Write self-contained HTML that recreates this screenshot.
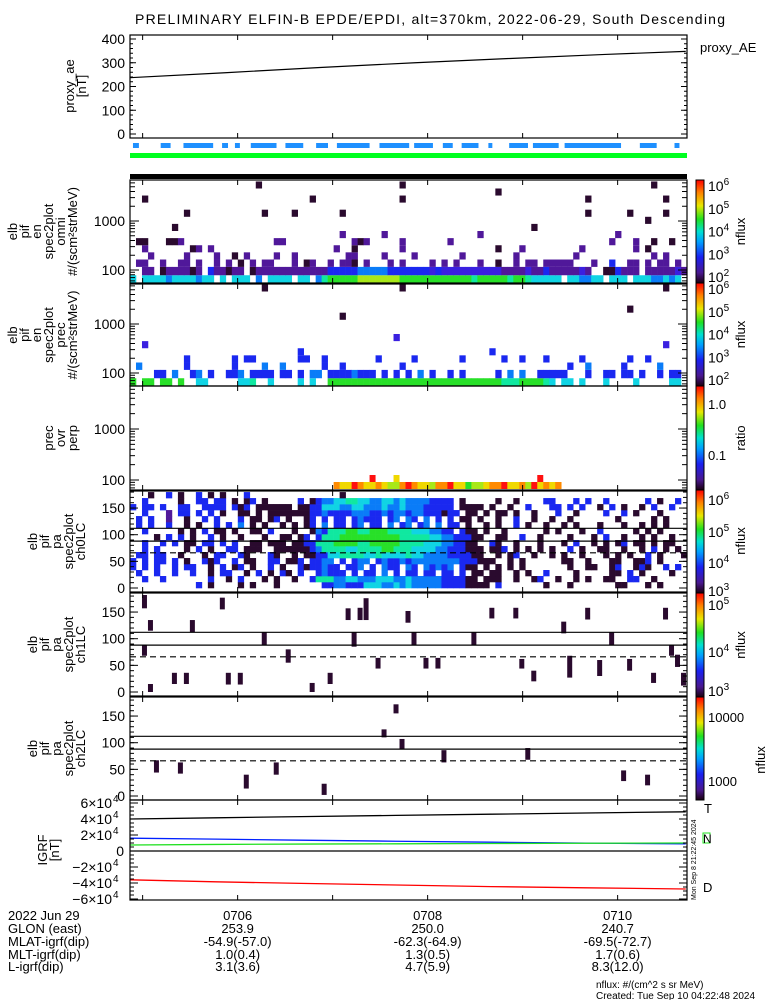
<!DOCTYPE html>
<html><head><meta charset="utf-8">
<style>
html,body{margin:0;padding:0;background:#fff;}
svg{display:block;font-family:"Liberation Sans",sans-serif;}
text{fill:#000;}
</style></head>
<body>
<svg id="chart" width="775" height="1000" viewBox="0 0 775 1000" xmlns="http://www.w3.org/2000/svg">
<rect x="0" y="0" width="775" height="1000" fill="#fff"/>
<text x="135" y="24" font-size="14" textLength="590" lengthAdjust="spacing">PRELIMINARY ELFIN-B EPDE/EPDI, alt=370km, 2022-06-29, South Descending</text>
<g id="g"></g>
</svg>
<script>
// ---------- data ----------
const nBins = 93;
const aeTimes = [0, 1, 2, 3, 4, 5, 5.85];
const aeValues = [237, 258, 280, 300, 318, 335, 348];
const aeTicks = [0, 100, 200, 300, 400];
const blueSegs = [[133,139],[161,171],[184,214],[223,229],[236,241],[252,278],[287,305],[318,330],[339,372],[382,412],[417,436],[446,456],[465,482],[492,496],[513,532],[537,563],[569,626],[645,662],[680,685]];
const energies = [63,97,138,194,271,378,529,739,1031,1440,2012,2802,3905,5432];
const omniRows = [
"f.ffffeffffeff.f.fff.e.ffff.ff.eghhhhhiiiiiiihhhhhhhhhhhhghhhhhghhgfffff.ffeeff.fff.fffeefef.f",
"..bb.abbbbab.dbbabb.abbbbbbbbbbbbdddddeeeeedddddddcdccccccccccbbbbcbbdbbbbbcb..aadbbb.bbbbbcbb",
".bb..b..bb.b..b.b.a.b.bb...b.ab..b.bba.b...b.b....b.b.b...b..a..b.bb.bbbbb...b..d..bb.b.bb.b",
"...b.....b....b..a.b.......b........bb....b....b.......b........b.........b............b.b...",
"..b.......ab.b....................b..a.......b...............a...b.........b........b.a.....",
".aa...aab...............bb...........bab.....b.......b..........................b...b..a..."
];
const omniDots = [[2,11,'a'],[7,7,'a'],[9,9,'a'],[21,13,'a'],[22,9,'a'],[24,3,'b'],[27,9,'a'],[30,11,'a'],[35,9,'a'],[35,6,'b'],[42,6,'b'],[45,13,'a'],[45,11,'a'],[58,6,'b'],[61,12,'a'],[67,7,'a'],[76,9,'a'],[76,11,'a'],[81,6,'b'],[83,9,'a'],[86,8,'a'],[87,13,'a'],[89,11,'a'],[89,9,'a'],[90,5,'a']];
const precRows = [
"h.hh.hh.h..ff.....ffg..f....f.f..hhhhhhhhhhhhhhhhhhhhhhhhhhhhhggghhhhgf.ff.f...f....f.....ff.gf",
"....dd.e..de.d..dde.dddd.dd.d.ee.ddddeddd.d.d.d.e.d..d.d.....d.e.e..ddddd...d..dd.dd.d..d.dd.d",
".e.......d.......d....e..e......d..d.........d...........................d..e.....d.....e..",
".........d.......d.dd.......dd..d........d.....d.......d......d..d...d.....d.......d..d....."
];
const precDots = [[22,13,'a'],[45,13,'a'],[89,13,'a'],[83,10,'a'],[35,9,'a'],[44,6,'c'],[2,5,'c'],[89,5,'c'],[28,4,'d'],[60,4,'d']];
const ratioRow = "..................................kjjlkjjkjiiklkjjikkljjhiijkkljjkiljkjk";
const ratioDots = [[40,'l'],[44,'j'],[68,'l']];
const ch0Rows = [
"...........d.a....a.a...a.......ddeedddfffeefefeeeeeddddaaaa.d.......a...a.......aa...a.a.....",
"..d..d.......d..a.d...a.a..a..dgggeeffeeefffeefeeeeeddddaa.aaa..a..ad..a..a.a..aa..dd..a.....a",
".d..d..d..d..a.dd..a.d.a.da.d..deddd.d.dd.e.d.dd.dd.dd.d.aa.aa..a.a..d....a.....aa.d.a....a..",
"d.d.d..d.dd..a.d.ad.a..d.a..daddedd.dde.d.edd.ed.edede.daa.a.a.a.a.......a..aa..ad..ada..d.d.",
"d.d.dd.d.a..dad..d.aa..dd.aad.ddee.d.dee.deddedeeeeeeeedddaaa..a.a......aa..a...aa..aad.a....",
".dd.dd..a...a.dd..da...da..a.aaddffggggffgffffgffeeeeddddaa..a.ad..a..a.a..a...a.a.a..d.a...a",
"..d.d....a.d.a..dd.aaa..aaaaaadeggggffgggghhgggffffeedddaaa.aad.a.a.a.a..d.a..aa..a..a.d.a.a",
"..d..d.d.aa.dd.d.d..aa.aaa.aaddggghhhhgghhhhhggggfffeeddaa..da..a...a...a.d..a.a.ad.aa.a.aa",
"....a.d.d.a..d.a..a...a..aa.ad.dggghhhhhhhhhhgggggffeedddaa..aa..d..a....a...a.d..a..a.a..a",
"..d.....a.a.d.aa.a..aa.d...a..aedggghhgghhhggggfffeedd.daa.a..a......a.a...a..d.....a.a.a.",
".d.d..d..a.a..d.d.e.a.a..a.a.ad.e.dd.de.dd.e.de.de.e.dd.a..a.a..d.a..a..a.a...a...a..a.a.a.",
".d.d..b..a..d.d...d.aa.ad.a..ad.d.dd.deddd.de.ed.e.d.d.aa.a..a..d..a..a..a.......a.....a.a",
"..d...b.dd.d.d.a..aa.a.aaaaaaaddeddddeeeddedeedeedddadd.aa.a.aa.a..a...d..a....d..d.a...a..",
"d.dd.d..dd..dddd.dad.aaaaaa.aaddfffeeffeeefeefeeeddddd.aaaa.a..a..d...dd.d.d..a.d.a..a.d..d",
"..d.....a..dd.dd.a.ad.a.....d.adeeffggffeeffefeeeedddd.a.....a..a....dd...d.d..d......d.a..d",
"...a..d.a..d.a.a...d...............a....................................................."
];
const ch1Bars = [[2,157,182],[3,115,135],[2,68,89],[3,0,15],[7,15,36],[9,15,36],[10,112,135],[15,155,177],[16,14,36],[18,14,36],[22,88,112],[26,55,80],[30,0,17],[33,15,36],[36,135,157],[37,85,112],[38,135,158],[39,135,176],[41,44,64],[46,130,152],[47,88,112],[49,44,64],[51,44,64],[57,88,112],[60,138,158],[64,138,158],[65,44,62],[67,20,40],[72,110,132],[73,27,68],[76,136,158],[78,30,60],[80,88,112],[83,40,62],[87,17,36],[89,136,158],[90,68,88],[91,47,70],[92,12,36]];
const ch2Bars = [[4,44,67],[8,42,63],[19,14,40],[24,40,63],[32,2,23],[42,110,125],[44,155,172],[45,88,107],[52,63,86],[66,68,90],[82,28,48],[86,20,40]];
const lcLines = [112, 88];
const lcDashed = 66;
const igrfTimes = [0, 0.9, 1.8, 2.8, 3.8, 4.8, 5.85];
const igrfT = [40000, 41500, 43000, 44500, 46000, 47500, 49000];
const igrfN = [16000, 14800, 13500, 12200, 11000, 9800, 9000];
const igrfE = [7500, 8200, 8700, 9000, 9400, 9700, 10000];
const igrfD = [-36000, -38500, -40500, -42500, -44500, -46000, -47500];
const igrfTicks = [60000, 40000, 20000, 0, -20000, -40000, -60000];
const timeLabels = ["0706", "0708", "0710"];
const timeMinutes = [1.133, 3.133, 5.133];
const rowLabels = ["2022 Jun 29", "GLON (east)", "MLAT-igrf(dip)", "MLT-igrf(dip)", "L-igrf(dip)"];
const glon = ["253.9", "250.0", "240.7"];
const mlat = ["-54.9(-57.0)", "-62.3(-64.9)", "-69.5(-72.7)"];
const mlt = ["1.0(0.4)", "1.3(0.5)", "1.7(0.6)"];
const lval = ["3.1(3.6)", "4.7(5.9)", "8.3(12.0)"];

// ---------- rendering ----------
const NS = "http://www.w3.org/2000/svg";
const G = document.getElementById("g");
const X0 = 130, X1 = 687;
const colors = {a:"#2a0a2e",b:"#50189a",c:"#3a20e0",d:"#1a28f0",e:"#0a7cf8",f:"#10d4e4",g:"#10e8a0",h:"#28e028",i:"#a8e818",j:"#f0d800",k:"#ff8a00",l:"#ff1010"};
function el(tag, attrs, parent) {
  const e = document.createElementNS(NS, tag);
  for (const k in attrs) e.setAttribute(k, attrs[k]);
  (parent || G).appendChild(e);
  return e;
}
function xMin(m) { return X0 + m * 95; }
function xBin(i) { return X0 + i * (X1 - X0) / nBins; }
const bw = (X1 - X0) / nBins;
function txt(x, y, s, size, anchor, name, extra) {
  const t = el("text", Object.assign({x: x, y: y, "font-size": size || 13, "text-anchor": anchor || "start"}, extra || {}));
  t.textContent = s;
  
  
  return t;
}
function frame(top, bot, name) {
  const r = el("rect", {x: X0, y: top, width: X1 - X0, height: bot - top, fill: "none", stroke: "#000", "stroke-width": 1.2});
  
  
  for (let m = 0; m <= 5; m++) {
    const x = xMin(m + 0.133);
    el("line", {x1: x, x2: x, y1: bot, y2: bot - 5, stroke: "#000"});
    el("line", {x1: x, x2: x, y1: top, y2: top + 5, stroke: "#000"});
  }
}
function yLabel(lines, cx, cy, name) {
  const n = lines.length;
  lines.forEach((s, k) => {
    const x = cx + (k - (n - 1) / 2) * 12 + 5;
    txt(x, cy, s, 13, "middle", name, {transform: "rotate(-90 " + x + " " + cy + ")"});
  });
}
function colorbar(top, bot, name) {
  const id = "cb" + top;
  const d = el("linearGradient", {id: id, x1: 0, y1: 1, x2: 0, y2: 0});
  [["0","#1a0010"],["0.1","#4a1890"],["0.25","#1a20f0"],["0.4","#00a0ff"],["0.5","#00e0d0"],["0.62","#20e020"],["0.75","#e8e800"],["0.88","#ff8000"],["1","#ff0000"]].forEach(s => el("stop", {offset: s[0], "stop-color": s[1]}, d));
  const r = el("rect", {x: 696, y: top, width: 8, height: bot - top, fill: "url(#" + id + ")", stroke: "#000", "stroke-width": 1});
  
  
}
function sup(x, y, base, exp, name) {
  const t = txt(x, y, base, 14, "start", name);
  const s = el("tspan", {dy: -6, "font-size": 10}, t);
  s.textContent = exp;
}

// ---- proxy AE panel ----
const aeTop = 35, aeBot = 138;
function yAE(v) { return 134 - v * (95 / 400); }
frame(aeTop, aeBot, "proxy-ae-panel");
aeTicks.forEach(v => {
  txt(125, yAE(v) + 5, String(v), 14, "end", "ae-tick-label");
  el("line", {x1: X0, x2: X0 + 6, y1: yAE(v), y2: yAE(v), stroke: "#000"});
  el("line", {x1: X1, x2: X1 - 6, y1: yAE(v), y2: yAE(v), stroke: "#000"});
});
for (let v = 20; v < 400; v += 20) {
  el("line", {x1: X0, x2: X0 + 3, y1: yAE(v), y2: yAE(v), stroke: "#000"});
  el("line", {x1: X1, x2: X1 - 3, y1: yAE(v), y2: yAE(v), stroke: "#000"});
}
let aeP = aeTimes.map((t, i) => xMin(t) + "," + yAE(aeValues[i])).join(" ");
const aeLine = el("polyline", {points: aeP, fill: "none", stroke: "#000", "stroke-width": 1.2});


txt(700, 52, "proxy_AE", 13, "start", "proxy-ae-legend");
yLabel(["proxy_ae", "[nT]"], 75, 86, "proxy-ae-axis-title");
blueSegs.forEach(s => {
  const r = el("rect", {x: X0 + (s[0] - 130) * 0.99, y: 143, width: (s[1] - s[0]) * 0.99, height: 5, fill: "#1e90ff"});
  
  
});
const gb = el("rect", {x: X0, y: 153, width: X1 - X0, height: 5, fill: "#00ff20"});


const bb = el("rect", {x: X0, y: 174, width: X1 - X0, height: 5, fill: "#000"});



// ---- energy spectrograms ----
function eEdges(k) {
  const lo = k === 0 ? energies[0] / Math.sqrt(energies[1] / energies[0]) : Math.sqrt(energies[k] * energies[k - 1]);
  const hi = k === energies.length - 1 ? energies[k] * Math.sqrt(energies[k] / energies[k - 1]) : Math.sqrt(energies[k] * energies[k + 1]);
  return [lo, hi];
}
function specPanel(top, bot, y1000, rows, dots, name, lbl) {
  const yE = e => y1000 + 49 * (3 - Math.log10(e));
  const cell = (i, k, c) => {
    if (!colors[c]) return;
    const ed = eEdges(k);
    let ya = Math.max(top, yE(ed[1])), yb = Math.min(bot, yE(ed[0]));
    const r = el("rect", {x: xBin(i), y: ya, width: bw + 0.3, height: yb - ya, fill: colors[c]});
    
    
  };
  rows.forEach((row, k) => { for (let i = 0; i < nBins; i++) cell(i, k, row.charAt(i)); });
  dots.forEach(d => cell(d[0], d[1], d[2]));
  frame(top, bot, name);
  [100, 1000].forEach(v => txt(125, yE(v) + 5, String(v), 14, "end", "energy-tick-label"));
  for (let dec = 1; dec <= 4; dec++) for (let m = 1; m < 10; m++) {
    const y = yE(m * Math.pow(10, dec));
    if (y < top || y > bot) continue;
    const L = m === 1 ? 9 : 5;
    el("line", {x1: X0, x2: X0 + L, y1: y, y2: y, stroke: "#000"});
    el("line", {x1: X1, x2: X1 - L, y1: y, y2: y, stroke: "#000"});
  }
  yLabel(lbl, 42, (top + bot) / 2, name + "-title");
}
specPanel(180, 283, 221, omniRows, omniDots, "omni-spectrogram", ["elb", "pif", "en", "spec2plot", "omni", "#/(scm\u00b2strMeV)"]);
specPanel(284, 386, 324, precRows, precDots, "prec-spectrogram", ["elb", "pif", "en", "spec2plot", "prec", "#/(scm\u00b2strMeV)"]);

// ratio panel
(function() {
  const top = 386, bot = 490;
  for (let i = 0; i < nBins; i++) {
    const c = ratioRow.charAt(i);
    if (!colors[c]) continue;
    const r = el("rect", {x: xBin(i), y: 482, width: bw + 0.3, height: 7, fill: colors[c]});
    
    
  }
  ratioDots.forEach(d => {
    const r = el("rect", {x: xBin(d[0]), y: 475, width: bw, height: 7, fill: colors[d[1]]});
    
    
  });
  frame(top, bot, "prec-ovr-perp-panel");
  const yE = e => 429 + 51 * (3 - Math.log10(e));
  [100, 1000].forEach(v => txt(125, yE(v) + 5, String(v), 14, "end", "ratio-energy-tick"));
  for (let dec = 1; dec <= 3; dec++) for (let m = 1; m < 10; m++) {
    const y = yE(m * Math.pow(10, dec));
    if (y < top || y > bot) continue;
    const L = m === 1 ? 9 : 5;
    el("line", {x1: X0, x2: X0 + L, y1: y, y2: y, stroke: "#000"});
    el("line", {x1: X1, x2: X1 - L, y1: y, y2: y, stroke: "#000"});
  }
  yLabel(["prec", "ovr", "perp"], 60, 438, "ratio-axis-title");
})();

// ---- pitch angle panels ----
function lcPanel(top, bot, name, lbl) {
  const yP = p => bot - 4 - p * 0.533;
  return {yP: yP, finish: () => {
    lcLines.forEach(p => el("line", {x1: X0, x2: X1, y1: yP(p), y2: yP(p), stroke: "#000", "stroke-width": 1.2}));
    el("line", {x1: X0, x2: X1, y1: yP(lcDashed), y2: yP(lcDashed), stroke: "#000", "stroke-width": 1.2, "stroke-dasharray": "6,4"});
    frame(top, bot, name);
    [0, 50, 100, 150].forEach(v => {
      txt(125, yP(v) + 5, String(v), 14, "end", "pitch-angle-tick");
      el("line", {x1: X0, x2: X0 + 8, y1: yP(v), y2: yP(v), stroke: "#000"});
      el("line", {x1: X1, x2: X1 - 8, y1: yP(v), y2: yP(v), stroke: "#000"});
    });
    for (let v = 10; v < 185; v += 10) {
      el("line", {x1: X0, x2: X0 + 4, y1: yP(v), y2: yP(v), stroke: "#000"});
      el("line", {x1: X1, x2: X1 - 4, y1: yP(v), y2: yP(v), stroke: "#000"});
    }
    yLabel(lbl, 56, (top + bot) / 2, name + "-title");
  }};
}
(function() {
  const p = lcPanel(491, 592, "ch0lc-panel", ["elb", "pif", "pa", "spec2plot", "ch0LC"]);
  ch0Rows.forEach((row, k) => {
    for (let i = 0; i < nBins; i++) {
      const c = row.charAt(i);
      if (!colors[c]) continue;
      const ya = p.yP(k * 11.25 + 11.25), yb = p.yP(k * 11.25);
      const r = el("rect", {x: xBin(i), y: ya, width: bw + 0.3, height: yb - ya + 0.3, fill: colors[c]});
      
      
    }
  });
  p.finish();
})();
function barPanel(top, bot, bars, name, lbl) {
  const p = lcPanel(top, bot, name, lbl);
  bars.forEach(b => {
    const r = el("rect", {x: xBin(b[0]), y: p.yP(b[2]), width: bw - 1, height: p.yP(b[1]) - p.yP(b[2]), fill: colors.a});
    
    
  });
  p.finish();
}
barPanel(593, 696, ch1Bars, "ch1lc-panel", ["elb", "pif", "pa", "spec2plot", "ch1LC"]);
barPanel(697, 800, ch2Bars, "ch2lc-panel", ["elb", "pif", "pa", "spec2plot", "ch2LC"]);

// ---- IGRF panel ----
(function() {
  const top = 800, bot = 900;
  const yB = v => 851 - v * 0.0008;
  el("line", {x1: X0, x2: X1, y1: yB(0), y2: yB(0), stroke: "#000", "stroke-width": 1.2});
  [[igrfT, "#000", "igrf-total-line"], [igrfN, "#0020ff", "igrf-north-line"], [igrfE, "#20e020", "igrf-east-line"], [igrfD, "#ff0000", "igrf-down-line"]].forEach(s => {
    const pts = igrfTimes.map((t, i) => xMin(t) + "," + yB(s[0][i])).join(" ");
    const l = el("polyline", {points: pts, fill: "none", stroke: s[1], "stroke-width": 1.3});
    
    
  });
  frame(top, bot, "igrf-panel");
  igrfTicks.forEach(v => {
    const y = yB(v);
    if (v === 0) txt(124, y + 5, "0", 14, "end", "igrf-tick-label");
    else {
      const s = (v < 0 ? "\u2212" : "") + Math.abs(v / 10000) + "\u00d710";
      txt(112, y + 5, s, 14, "end", "igrf-tick-label");
      txt(113, y - 1, "4", 10, "start", "igrf-tick-exponent");
    }
    el("line", {x1: X0, x2: X0 + 8, y1: y, y2: y, stroke: "#000"});
    el("line", {x1: X1, x2: X1 - 8, y1: y, y2: y, stroke: "#000"});
  });
  for (let v = -60000; v <= 60000; v += 5000) {
    el("line", {x1: X0, x2: X0 + 4, y1: yB(v), y2: yB(v), stroke: "#000"});
    el("line", {x1: X1, x2: X1 - 4, y1: yB(v), y2: yB(v), stroke: "#000"});
  }
  yLabel(["IGRF", "[nT]"], 48, 850, "igrf-axis-title");
  txt(704, 813, "T", 13, "start", "legend-t");
  el("rect", {x: 703, y: 833, width: 7, height: 10, fill: "none", stroke: "#20e020"});
  txt(703, 843, "N", 12, "start", "legend-n", {fill: "#0020ff"});
  txt(703, 892, "D", 13, "start", "legend-d", {fill: "#ff0000"});
  txt(696, 900, "Mon Sep  8 21:22:45 2024", 7, "start", "run-timestamp", {transform: "rotate(-90 696 900)"});
})();

// ---- colorbars ----
colorbar(180, 283, "omni-colorbar");
colorbar(283, 386, "prec-colorbar");
colorbar(386, 490, "ratio-colorbar");
colorbar(490, 593, "ch0-colorbar");
colorbar(593, 697, "ch1-colorbar");
colorbar(697, 800, "ch2-colorbar");
[[180, 283, 2, 6], [283, 386, 2, 6]].forEach(b => {
  for (let e = b[2]; e <= b[3]; e++) {
    const y = b[1] - 6 - (e - b[2]) * (b[1] - b[0] - 12) / (b[3] - b[2]);
    sup(708, y + 5, "10", String(e), "colorbar-tick-label");
  }
  txt(745, (b[0] + b[1]) / 2, "nflux", 13, "middle", "colorbar-title", {transform: "rotate(-90 745 " + (b[0] + b[1]) / 2 + ")"});
});
txt(708, 409, "1.0", 13, "start", "ratio-tick-label");
txt(708, 460, "0.1", 13, "start", "ratio-tick-label");
txt(745, 438, "ratio", 13, "middle", "ratio-colorbar-title", {transform: "rotate(-90 745 438)"});
[[6, 500], [5, 532], [4, 563], [3, 591]].forEach(t => sup(708, t[1] + 5, "10", String(t[0]), "colorbar-tick-label"));
txt(745, 541, "nflux", 13, "middle", "colorbar-title", {transform: "rotate(-90 745 541)"});
[[5, 605], [4, 652], [3, 691]].forEach(t => sup(708, t[1] + 5, "10", String(t[0]), "colorbar-tick-label"));
txt(745, 645, "nflux", 13, "middle", "colorbar-title", {transform: "rotate(-90 745 645)"});
txt(708, 722, "10000", 13, "start", "colorbar-tick-label");
txt(708, 786, "1000", 13, "start", "colorbar-tick-label");
txt(765, 760, "nflux", 13, "middle", "colorbar-title", {transform: "rotate(-90 765 760)"});

// ---- bottom annotation ----
const rowsY = [920, 933, 946, 959, 971];
rowLabels.forEach((s, k) => txt(8, rowsY[k], s, 13, "start", "orbit-row-label"));
const vals = [timeLabels, glon, mlat, mlt, lval];
vals.forEach((arr, k) => arr.forEach((s, j) => txt(xMin(timeMinutes[j]), rowsY[k], s, 13, "middle", "orbit-value")));
txt(596, 988, "nflux: #/(cm^2 s sr MeV)", 10, "start", "units-note");
txt(596, 999, "Created: Tue Sep 10 04:22:48 2024", 10, "start", "created-note");
</script>
</body></html>
